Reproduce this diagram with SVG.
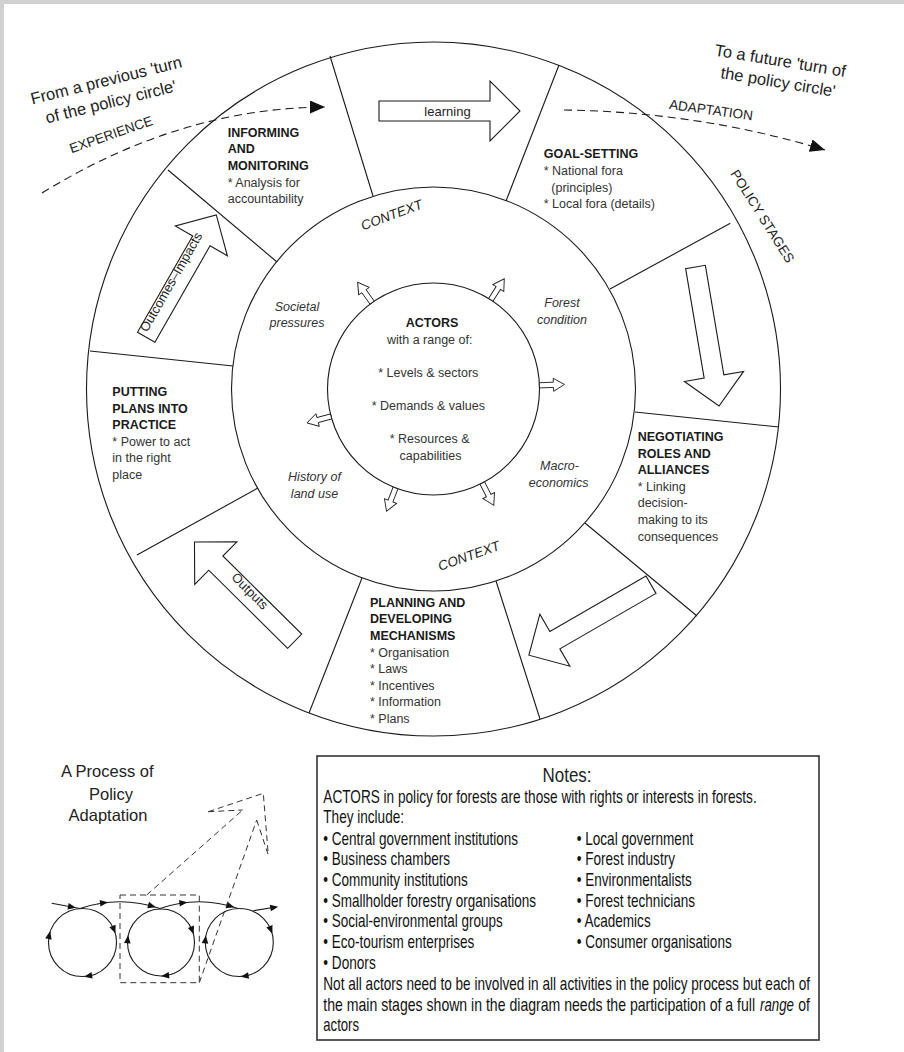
<svg xmlns="http://www.w3.org/2000/svg" width="904" height="1052" viewBox="0 0 904 1052">
<defs>
<style>
.ln{fill:none;stroke:#1a1a1a;stroke-width:1.1}
.blk{fill:#fff;stroke:#1a1a1a;stroke-width:1.1}
.sm{fill:#fff;stroke:#1a1a1a;stroke-width:0.9}
.t{font-family:"Liberation Sans",Arial,sans-serif;fill:#222}
.h{font-size:12.5px;font-weight:bold;fill:#1a1a1a}
.b{font-size:12.5px;fill:#333}
.i{font-size:12.5px;font-style:italic;fill:#333}
.c{text-anchor:middle}
.lab{font-size:13.5px;fill:#222}
.big{font-size:16.5px;fill:#222}
.dash{fill:none;stroke:#1a1a1a;stroke-width:1.1;stroke-dasharray:8 5}
.md{fill:none;stroke:#333;stroke-width:1;stroke-dasharray:6 4}
.n{font-size:18px;fill:#111}
.mt{fill:#111}
</style>
<marker id="tri" markerUnits="userSpaceOnUse" markerWidth="16" markerHeight="14" refX="15" refY="6.5" orient="auto"><path d="M0,0 L15,6.5 L0,13 z" fill="#111"/></marker>
<polygon id="bigarrow" points="0,-10 111,-10 111,-30 141,0 111,30 111,10 0,10"/>
<polygon id="smarrow" points="0,-2.6 14,-2.6 14,-6.5 25,0 14,6.5 14,2.6 0,2.6"/>
<polygon id="mtri" points="-4,-3.3 4,0 -4,3.3"/>
</defs>
<rect width="904" height="1052" fill="#d0d0d0"/>
<rect x="4" y="4" width="900" height="1048" fill="#fff"/>

<g id="policy-circle">
<circle cx="433.5" cy="389" r="347" class="ln"/>
<circle cx="433.5" cy="389" r="202" class="ln"/>
<path class="ln" d="M330 56 L373 196 M559 65 L506 201 M730.3 223.3 L610 289 M779 427 L635 412 M697 616 L585 523 M540 719 L496 581 M309 713 L362 578 M137 555 L258 488 M90 351 L233 366 M168 170 L277 262"/>
</g>

<g id="actors">
<circle cx="433.5" cy="389" r="106" class="ln"/>
<text class="t h c" x="432" y="327.3">ACTORS</text>
<text class="t b c" x="429.7" y="344">with a range of:</text>
<text class="t b c" x="428.3" y="377.3">* Levels &amp; sectors</text>
<text class="t b c" x="428.3" y="410">* Demands &amp; values</text>
<text class="t b c" x="429.7" y="443.3">* Resources &amp;</text>
<text class="t b c" x="430.5" y="459.5">capabilities</text>
<g transform="translate(433.5,389)">
<use href="#smarrow" class="sm" transform="rotate(-125.4) translate(106,0)"/>
<use href="#smarrow" class="sm" transform="rotate(-57.3) translate(106,0)"/>
<use href="#smarrow" class="sm" transform="rotate(-2) translate(106,0)"/>
<use href="#smarrow" class="sm" transform="rotate(165) translate(106,0)"/>
<use href="#smarrow" class="sm" transform="rotate(111) translate(106,0)"/>
<use href="#smarrow" class="sm" transform="rotate(62.6) translate(106,0)"/>
</g>
</g>

<g id="context">
<text class="t lab" font-style="italic" font-size="13" transform="translate(363,230.5) rotate(-20.4)">CONTEXT</text>
<text class="t lab" font-style="italic" font-size="13" transform="translate(440,571) rotate(-19.6)">CONTEXT</text>
<text class="t i c" x="297" y="310.5">Societal</text>
<text class="t i c" x="297" y="327">pressures</text>
<text class="t i c" x="562" y="307.3">Forest</text>
<text class="t i c" x="562" y="324">condition</text>
<text class="t i c" x="559.5" y="470">Macro-</text>
<text class="t i c" x="558.7" y="486.5">economics</text>
<text class="t i c" x="314.5" y="481">History of</text>
<text class="t i c" x="314.5" y="497.5">land use</text>
</g>

<g id="stage-informing">
<text class="t h" x="227.7" y="136.7">INFORMING</text>
<text class="t h" x="227.7" y="153.3">AND</text>
<text class="t h" x="227.7" y="169.9">MONITORING</text>
<text class="t b" x="227.7" y="186.5">* Analysis for</text>
<text class="t b" x="227.7" y="203">accountability</text>
</g>
<g id="stage-goal-setting">
<text class="t h" x="543.7" y="158.3">GOAL-SETTING</text>
<text class="t b" x="543.7" y="174.9">* National fora</text>
<text class="t b" x="551.3" y="191.5">(principles)</text>
<text class="t b" x="543.7" y="208">* Local fora (details)</text>
</g>
<g id="stage-negotiating">
<text class="t h" x="637.7" y="441">NEGOTIATING</text>
<text class="t h" x="637.7" y="457.6">ROLES AND</text>
<text class="t h" x="637.7" y="474.2">ALLIANCES</text>
<text class="t b" x="637.7" y="490.8">* Linking</text>
<text class="t b" x="637.7" y="507.4">decision-</text>
<text class="t b" x="637.7" y="524">making to its</text>
<text class="t b" x="637.7" y="540.6">consequences</text>
</g>
<g id="stage-planning">
<text class="t h" x="370" y="606.7">PLANNING AND</text>
<text class="t h" x="370" y="623.3">DEVELOPING</text>
<text class="t h" x="370" y="639.9">MECHANISMS</text>
<text class="t b" x="370" y="656.5">* Organisation</text>
<text class="t b" x="370" y="673.1">* Laws</text>
<text class="t b" x="370" y="689.7">* Incentives</text>
<text class="t b" x="370" y="706.3">* Information</text>
<text class="t b" x="370" y="722.9">* Plans</text>
</g>
<g id="stage-putting">
<text class="t h" x="112.3" y="396">PUTTING</text>
<text class="t h" x="112.3" y="412.6">PLANS INTO</text>
<text class="t h" x="112.3" y="429.2">PRACTICE</text>
<text class="t b" x="112.3" y="445.8">* Power to act</text>
<text class="t b" x="112.3" y="462.4">in the right</text>
<text class="t b" x="112.3" y="479">place</text>
</g>

<g id="flow-arrows">
<use href="#bigarrow" class="blk" transform="translate(379,111)"/>
<text class="t c" font-size="13" fill="#333" x="447.5" y="115.5">learning</text>
<use href="#bigarrow" class="blk" transform="translate(695.5,267) rotate(80.4)"/>
<use href="#bigarrow" class="blk" transform="translate(651,584.7) rotate(150)"/>
<use href="#bigarrow" class="blk" transform="translate(294.7,641.2) rotate(224.7)"/>
<text class="t c" font-size="13" fill="#333" transform="translate(250,591) rotate(45)" dy="4.5">Outputs</text>
<use href="#bigarrow" class="blk" transform="translate(146.2,337.2) rotate(-60.2)"/>
<text class="t c" font-size="13" fill="#333" transform="translate(171,282) rotate(-60.2)" dy="4.5">Outcomes–Impacts</text>
</g>

<g id="connectors">
<path class="dash" d="M42 193 Q180 108 325 107" marker-end="url(#tri)"/>
<path class="dash" d="M564 110 Q700 112 825 150" marker-end="url(#tri)"/>
</g>

<g id="outer-labels">
<text class="t big" transform="translate(32.2,104.5) rotate(-14)">From a previous 'turn</text>
<text class="t big" transform="translate(47,123.5) rotate(-14)">of the policy circle'</text>
<text class="t lab" font-size="13.5" transform="translate(71.6,153.3) rotate(-19.4)">EXPERIENCE</text>
<text class="t big" transform="translate(714,55.5) rotate(9.3)">To a future 'turn of</text>
<text class="t big" transform="translate(720,78) rotate(9.3)">the policy circle'</text>
<text class="t lab" transform="translate(668.7,108.7) rotate(8)">ADAPTATION</text>
<text class="t lab" font-size="13" transform="translate(730,173.6) rotate(57.7)">POLICY STAGES</text>
</g>

<g id="mini-diagram">
<text class="t big c" fill="#333" x="107.2" y="776.7">A Process of</text>
<text class="t big c" fill="#333" x="111" y="800">Policy</text>
<text class="t big c" fill="#333" x="108" y="821">Adaptation</text>
<circle cx="82.5" cy="942.5" r="34" class="ln"/>
<circle cx="161" cy="942.5" r="33.5" class="ln"/>
<circle cx="239.3" cy="942.5" r="34" class="ln"/>
<path class="ln" d="M51.7 903.3 L80 908.5 M80 908.5 Q120 895 160 908.5 M160 908.5 Q199 895 238 908.5 M253.3 910.7 L276 907"/>
<g class="mt">
<use href="#mtri" transform="translate(72,907) rotate(10.4)"/>
<use href="#mtri" transform="translate(104,902.8) rotate(-7.7)"/>
<use href="#mtri" transform="translate(152,906.1) rotate(15.1)"/>
<use href="#mtri" transform="translate(183.4,902.8) rotate(-7.7)"/>
<use href="#mtri" transform="translate(230.5,906.1) rotate(15.1)"/>
<use href="#mtri" transform="translate(274.3,907.3) rotate(-9.1)"/>
<use href="#mtri" transform="translate(114,929.8) rotate(68)"/>
<use href="#mtri" transform="translate(88.1,976) rotate(170.5)"/>
<use href="#mtri" transform="translate(49.3,935) rotate(282.7)"/>
<use href="#mtri" transform="translate(192.3,930.5) rotate(69)"/>
<use href="#mtri" transform="translate(165.1,975.8) rotate(173)"/>
<use href="#mtri" transform="translate(127.7,939.3) rotate(275.5)"/>
<use href="#mtri" transform="translate(270.9,930) rotate(68.4)"/>
<use href="#mtri" transform="translate(244.6,976.1) rotate(171)"/>
<use href="#mtri" transform="translate(205.4,939.4) rotate(275.3)"/>
</g>
<rect x="120" y="895" width="79.3" height="87.7" class="md"/>
<path class="md" d="M146.7 895 L242.7 810 M199.3 982.7 L256.7 820 M208.3 811.7 L242.7 810 M208.3 811.7 L263.3 793.3 L268.3 855 M256.7 820 L268.3 855"/>
</g>

<g id="notes">
<rect x="317" y="756" width="502" height="284" fill="#fff" stroke="#333" stroke-width="1.6"/>
<g transform="translate(323.3,0) scale(0.755,1)">
<text class="t c" font-size="21" fill="#111" x="322.8" y="781.7" textLength="64.9" lengthAdjust="spacingAndGlyphs">Notes:</text>
<text class="t n" x="0" y="803.3" textLength="574" lengthAdjust="spacingAndGlyphs">ACTORS in policy for forests are those with rights or interests in forests.</text>
<text class="t n" x="0" y="823.5" textLength="106.9" lengthAdjust="spacingAndGlyphs">They include:</text>
<text class="t n" x="0" y="845" textLength="257.9" lengthAdjust="spacingAndGlyphs">• Central government institutions</text>
<text class="t n" x="0" y="865.5" textLength="167.8" lengthAdjust="spacingAndGlyphs">• Business chambers</text>
<text class="t n" x="0" y="886" textLength="191.3" lengthAdjust="spacingAndGlyphs">• Community institutions</text>
<text class="t n" x="0" y="906.7" textLength="281.7" lengthAdjust="spacingAndGlyphs">• Smallholder forestry organisations</text>
<text class="t n" x="0" y="927.5" textLength="237.6" lengthAdjust="spacingAndGlyphs">• Social-environmental groups</text>
<text class="t n" x="0" y="948.2" textLength="200" lengthAdjust="spacingAndGlyphs">• Eco-tourism enterprises</text>
<text class="t n" x="0" y="969" textLength="69.4" lengthAdjust="spacingAndGlyphs">• Donors</text>
<text class="t n" x="335.6" y="845" textLength="154.4" lengthAdjust="spacingAndGlyphs">• Local government</text>
<text class="t n" x="335.6" y="865.5" textLength="130.2" lengthAdjust="spacingAndGlyphs">• Forest industry</text>
<text class="t n" x="335.6" y="886" textLength="152.3" lengthAdjust="spacingAndGlyphs">• Environmentalists</text>
<text class="t n" x="335.6" y="906.7" textLength="156.7" lengthAdjust="spacingAndGlyphs">• Forest technicians</text>
<text class="t n" x="335.6" y="927.5" textLength="98" lengthAdjust="spacingAndGlyphs">• Academics</text>
<text class="t n" x="335.6" y="948.2" textLength="205.3" lengthAdjust="spacingAndGlyphs">• Consumer organisations</text>
<text class="t n" x="0" y="990" textLength="644.6" lengthAdjust="spacingAndGlyphs">Not all actors need to be involved in all activities in the policy process but each of</text>
<text class="t n" x="0" y="1010.7" textLength="571.8" lengthAdjust="spacingAndGlyphs">the main stages shown in the diagram needs the participation of a full</text>
<text class="t n" font-style="italic" x="578.4" y="1010.7" textLength="45" lengthAdjust="spacingAndGlyphs">range</text>
<text class="t n" x="629.1" y="1010.7" textLength="15.5" lengthAdjust="spacingAndGlyphs">of</text>
<text class="t n" x="0" y="1031" textLength="47.3" lengthAdjust="spacingAndGlyphs">actors</text>
</g>
</g>
</svg>
